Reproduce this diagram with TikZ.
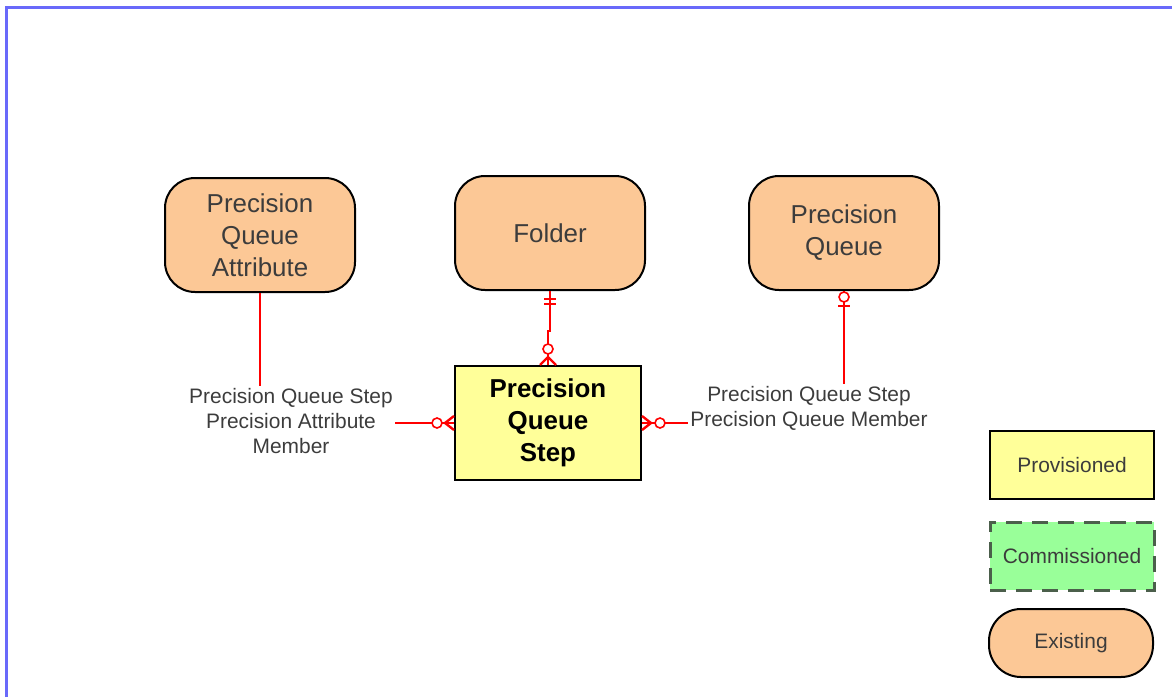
\documentclass[tikz,border=0pt]{standalone}
\usepackage{fontspec}
\setmainfont{Liberation Sans}
\usetikzlibrary{calc}

\definecolor{existfill}{RGB}{252,200,150}
\definecolor{provfill}{RGB}{255,255,153}
\definecolor{commfill}{RGB}{153,255,153}
\definecolor{commline}{RGB}{75,95,75}
\definecolor{framecol}{RGB}{105,105,250}
\definecolor{txtgray}{RGB}{60,60,60}

\begin{document}
\begin{tikzpicture}[x=0.5bp, y=-0.5bp,
  existing/.style={draw, line width=1bp, fill=existfill, rounded corners=15bp,
    minimum width=95bp, minimum height=57bp, align=center, text=txtgray,
    font=\fontsize{13}{16}\selectfont},
  provisioned/.style={draw, line width=1bp, fill=provfill, minimum width=93bp,
    minimum height=57bp, align=center, font=\fontsize{13}{16}\selectfont\bfseries},
  rellabel/.style={align=center, text=txtgray, inner sep=1bp,
    font=\fontsize{10.5}{12.5}\selectfont},
  legendbox/.style={draw, line width=1bp, minimum width=82bp, minimum height=34bp,
    text=txtgray, font=\fontsize{10.5}{12.5}\selectfont},
  rel/.style={red, line width=1.2bp},
  ring/.style={red, line width=0.8bp, fill=white}]
  \useasboundingbox (0,0) rectangle (1172,697);
  \draw[framecol, line width=1.5bp] (6,697) -- (6,8) -- (1172,8);

  % entities
  \node[existing] (pqattr) at (260,235) {Precision\\Queue\\Attribute};
  \node[existing] (folder) at (550,233) {Folder};
  \node[existing] (pqueue) at (844,233) {Precision\\Queue};
  \node[provisioned] (step) at (548,423) {Precision\\Queue\\Step};

  % relationship labels
  \node[rellabel] (attrmember) at (291,421) {Precision Queue Step\\Precision Attribute\\Member};
  \node[rellabel] (qmember) at (809,408) {Precision Queue Step\\Precision Queue Member};

  % connectors
  \draw[rel] (folder.south) -- ++(0,40) -| (step.north);
  \draw[rel] (pqattr.south) -- (pqattr.south |- attrmember.north);
  \draw[rel] (attrmember.east |- step.west) -- (step.west);
  \draw[rel] (pqueue.south) -- (pqueue.south |- qmember.north);
  \draw[rel] (step.east) -- (qmember.west |- step.east);

  % folder end: one and only one / zero or many
  \draw[rel] ($(folder.south)+(-6,8)$) -- ++(12,0);
  \draw[rel] ($(folder.south)+(-6,13)$) -- ++(12,0);
  \draw[rel] ($(step.north)+(-8,0)$) -- ($(step.north)+(0,-8)$) -- ($(step.north)+(8,0)$);
  \draw[ring] ($(step.north)+(0,-16)$) circle[radius=2.5bp];

  % queue end: zero or one / zero or many
  \draw[ring] ($(pqueue.south)+(0,6)$) circle[radius=2.5bp];
  \draw[rel] ($(pqueue.south)+(-6,15)$) -- ++(12,0);
  \draw[rel] ($(step.east)+(0,-7)$) -- ($(step.east)+(9,0)$) -- ($(step.east)+(0,7)$);
  \draw[ring] ($(step.east)+(18,0)$) circle[radius=2.5bp];

  % attribute end: zero or many
  \draw[rel] ($(step.west)+(0,-7)$) -- ($(step.west)+(-9,0)$) -- ($(step.west)+(0,7)$);
  \draw[ring] ($(step.west)+(-17,0)$) circle[radius=2.5bp];

  % legend
  \node[legendbox, fill=provfill] (legprov) at (1072,465) {Provisioned};
  \node[legendbox, fill=commfill, draw=commline, line width=1.5bp, dash pattern=on 8bp off 5bp] (legcomm) at (1072,556) {Commissioned};
  \node[legendbox, fill=existfill, rounded corners=16bp] (legexist) at (1071,643) {Existing};
\end{tikzpicture}
\end{document}
